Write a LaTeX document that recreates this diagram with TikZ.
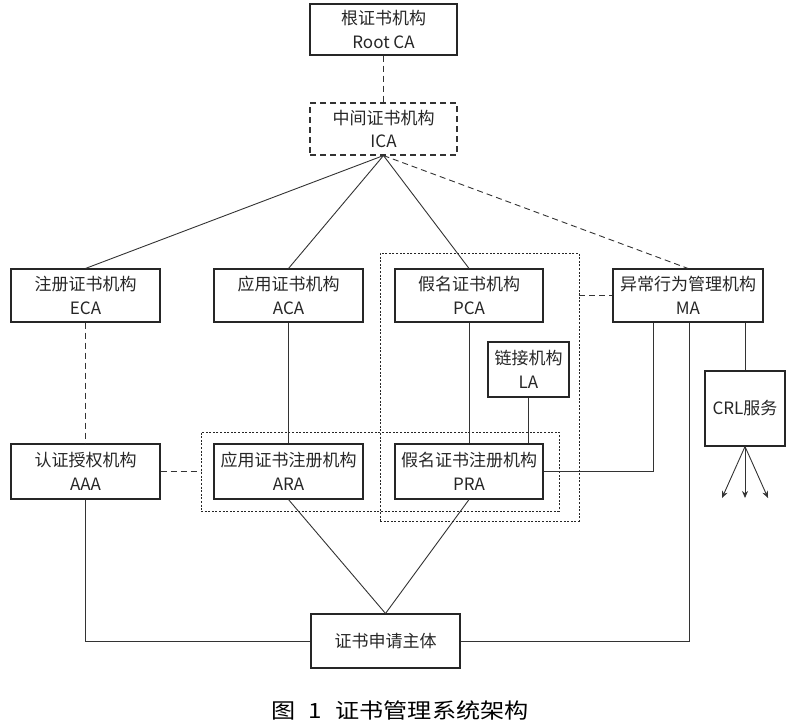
\documentclass[tikz,border=0pt]{standalone}
\usepackage{graphicx}
\usepackage{fontspec}
\setmainfont{Noto Sans CJK SC}
\usetikzlibrary{arrows.meta}
\tikzset{
  box/.style={draw=black!85, line width=1.1pt, align=center, inner sep=0pt,
    font=\fontsize{17}{23.5}\selectfont, text=black!85},
  grp/.style={draw=black!85, line width=0.9pt, dash pattern=on 2pt off 1.6pt},
  ln/.style={draw=black!80, line width=0.9pt},
  dln/.style={draw=black!80, line width=0.9pt, dash pattern=on 6pt off 4pt},
}
\begin{document}
\begin{tikzpicture}[x=1pt,y=-1pt]
\useasboundingbox (0,0) rectangle (791,726);
% groups
\node[grp, minimum width=358pt, minimum height=79pt, inner sep=0pt] (g1) at (380,471.5) {};
\node[grp, minimum width=199pt, minimum height=268pt, inner sep=0pt] (g2) at (479.5,387) {};
% boxes
\node[box, minimum width=147pt, minimum height=51pt] (root) at (383.5,29.5) {根证书机构\\Root CA};
\node[box, dln, line width=1.1pt, minimum width=147pt, minimum height=52pt] (ica) at (383.5,129) {中间证书机构\\ICA};
\node[box, minimum width=149pt, minimum height=53pt] (eca) at (85.5,295.5) {注册证书机构\\ECA};
\node[box, minimum width=149pt, minimum height=53pt] (aca) at (288.5,295.5) {应用证书机构\\ACA};
\node[box, minimum width=148pt, minimum height=53pt] (pca) at (469,295.5) {假名证书机构\\PCA};
\node[box, minimum width=150pt, minimum height=53pt] (ma) at (688,295.5) {异常行为管理机构\\MA};
\node[box, minimum width=81pt, minimum height=55pt] (la) at (528.5,369.5) {链接机构\\LA};
\node[box, minimum width=149pt, minimum height=55pt] (aaa) at (85.5,471.5) {认证授权机构\\AAA};
\node[box, minimum width=149pt, minimum height=55pt] (ara) at (288.5,471.5) {应用证书注册机构\\ARA};
\node[box, minimum width=148pt, minimum height=55pt] (pra) at (469,471.5) {假名证书注册机构\\PRA};
\node[box, minimum width=80pt, minimum height=75pt] (crl) at (745,408.5) {CRL服务};
\node[box, minimum width=149pt, minimum height=54pt] (sub) at (385.5,641) {证书申请主体};
% caption
\node[font=\fontsize{21}{24}\selectfont, text=black, inner sep=0pt] (cap) at (400,710) {\scalebox{1.15}[1]{图\hspace{11pt}1\hspace{12pt}证书管理系统架构}};
% connectors
\draw[dln] (root.south) -- (ica.north);
\draw[ln] (ica.south) -- (eca.north);
\draw[ln] (ica.south) -- (aca.north);
\draw[ln] (ica.south) -- (pca.north);
\draw[dln] (ica.south) -- (ma.north);
\draw[dln] (eca.south) -- (aaa.north);
\draw[ln] (aca.south) -- (ara.north);
\draw[ln] (pca.south) -- (pra.north);
\draw[ln] (la.south) -- (la.south |- pra.north);
\draw[dln] (aaa.east) -- (g1.west);
\draw[dln] (g2.east |- ma.west) -- (ma.west);
\coordinate (m1) at (653,0);
\coordinate (m2) at (689,0);
\draw[ln] (m1 |- ma.south) -- (m1 |- pra.east) -- (pra.east);
\draw[ln] (m2 |- ma.south) -- (m2 |- sub.east) -- (sub.east);
\draw[ln] (crl.north |- ma.south) -- (crl.north);
\draw[ln] (aaa.south) -- (aaa.south |- sub.west) -- (sub.west);
\draw[ln] (ara.south) -- (sub.north);
\draw[ln] (pra.south) -- (sub.north);
\coordinate (a1) at (722,498);
\coordinate (a2) at (745,498);
\coordinate (a3) at (768,498);
\draw[ln, -{Stealth[length=7pt,width=6pt]}] (crl.south) -- (a1);
\draw[ln, -{Stealth[length=7pt,width=6pt]}] (crl.south) -- (a2);
\draw[ln, -{Stealth[length=7pt,width=6pt]}] (crl.south) -- (a3);
\end{tikzpicture}
\end{document}
